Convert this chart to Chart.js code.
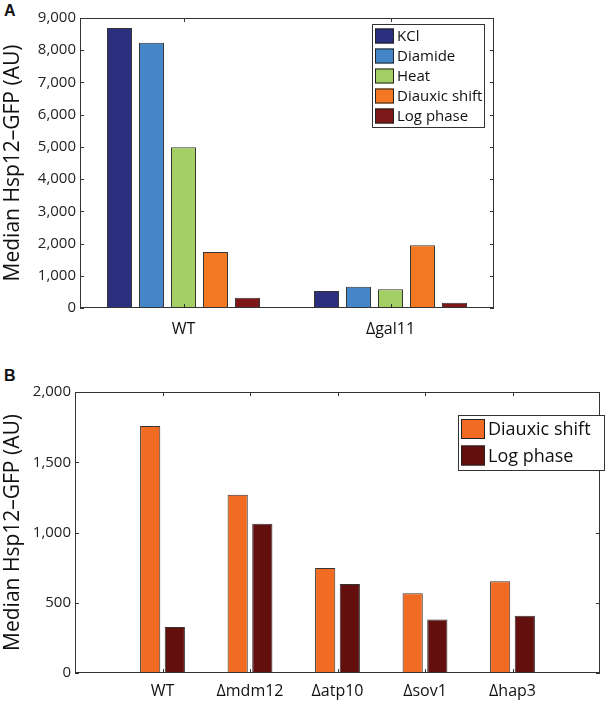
<!DOCTYPE html>
<html>
<head>
<meta charset="utf-8">
<script src="https://cdn.jsdelivr.net/npm/chart.js@4.4.0/dist/chart.umd.min.js"></script>
<style>
  body { margin: 0; background: #fff; width: 609px; height: 702px; position: relative; overflow: hidden; }
  canvas { position: absolute; left: 0; }
  #chartA { top: 0; }
  #chartB { top: 345px; }
  .panel { position: absolute; left: 4px; font: bold 16px "Liberation Sans", Arial, sans-serif; color: #111; }
</style>
</head>
<body>
<div class="panel" style="top:2px">A</div>
<div class="panel" style="top:367px">B</div>
<canvas id="chartA" width="609" height="345"></canvas>
<canvas id="chartB" width="609" height="357"></canvas>
<script>
// Panel A data
var strainsA = ['WT', 'Δgal11'];
var conditionsA = ['KCl', 'Diamide', 'Heat', 'Diauxic shift', 'Log phase'];
var kcl = [8690, 530];
var diamide = [8230, 660];
var heat = [4990, 580];
var diauxicA = [1740, 1950];
var logA = [320, 165];
var colorsA = ['#2b2f7e', '#4586c9', '#a3cf64', '#f37821', '#7e1717'];
var ticksA = [0, 1000, 2000, 3000, 4000, 5000, 6000, 7000, 8000, 9000];

// Panel B data
var strainsB = ['WT', 'Δmdm12', 'Δatp10', 'Δsov1', 'Δhap3'];
var diauxicB = [1758, 1268, 747, 567, 653];
var logB = [327, 1063, 633, 380, 408];
var colorsB = ['#f26b23', '#620f0d'];
var ticksB = [0, 500, 1000, 1500, 2000];

var fontFamily = '"Open Sans", "Noto Sans", sans-serif';

// frame, inward tick marks and legend drawn on top of the plot
var framePlugin = {
    id: 'frame',
    afterDatasetsDraw: function (chart, args, opts) {
        var ctx = chart.ctx;
        var a = chart.chartArea;
        var x = chart.scales.x, y = chart.scales.y;
        ctx.save();
        ctx.strokeStyle = '#333';
        ctx.lineWidth = 1;
        ctx.strokeRect(a.left + 0.5, a.top + 0.5, a.right - a.left - 1, a.bottom - a.top - 1);
        ctx.beginPath();
        opts.yTicks.forEach(function (v) {
            var py = Math.round(y.getPixelForValue(v)) + 0.5;
            ctx.moveTo(a.left, py); ctx.lineTo(a.left + 4, py);
            ctx.moveTo(a.right, py); ctx.lineTo(a.right - 4, py);
        });
        opts.xIdx.forEach(function (i) {
            var px = Math.round(x.getPixelForValue(i)) + 0.5;
            ctx.moveTo(px, a.top); ctx.lineTo(px, a.top + 4);
            ctx.moveTo(px, a.bottom); ctx.lineTo(px, a.bottom - 4);
        });
        ctx.stroke();

        // legend
        var L = opts.legend;
        ctx.fillStyle = '#fff';
        ctx.fillRect(L.x, L.y, L.w, L.h);
        ctx.strokeStyle = '#333';
        ctx.strokeRect(L.x + 0.5, L.y + 0.5, L.w, L.h);
        ctx.font = L.font + 'px ' + fontFamily;
        ctx.textBaseline = 'middle';
        chart.data.datasets.forEach(function (ds, i) {
            var ry = L.y + L.first + i * L.step;
            ctx.fillStyle = ds.backgroundColor;
            ctx.fillRect(L.x + 3, ry - L.sh / 2, L.sw, L.sh);
            ctx.strokeStyle = '#222';
            ctx.strokeRect(L.x + 3.5, ry - L.sh / 2 + 0.5, L.sw - 1, L.sh - 1);
            ctx.fillStyle = '#111';
            ctx.fillText(ds.label, L.x + L.sw + 6, ry + 1);
        });
        ctx.restore();
    }
};

function yAxis(max, step, width) {
    return {
        min: 0, max: max,
        grid: { display: false, drawTicks: false },
        border: { display: false },
        ticks: {
            stepSize: step, padding: 4, color: '#222',
            font: { family: fontFamily, size: 15 },
            callback: function (v) { return v.toLocaleString('en-US'); }
        },
        title: {
            display: true, text: 'Median Hsp12–GFP (AU)', color: '#111',
            font: { family: fontFamily, size: 21 }, padding: { top: 0, bottom: 2 }
        },
        afterFit: function (s) { s.width = width; }
    };
}

// Panel A
var dataA = [kcl, diamide, heat, diauxicA, logA];
new Chart(document.getElementById('chartA'), {
    type: 'bar',
    data: {
        labels: strainsA,
        datasets: conditionsA.map(function (c, i) {
            return {
                label: c, data: dataA[i], backgroundColor: colorsA[i],
                borderColor: '#333', borderWidth: 1,
                categoryPercentage: 0.773, barPercentage: 0.78
            };
        })
    },
    options: {
        responsive: false, animation: false,
        layout: { padding: { top: 18, right: 115, left: 0, bottom: 0 } },
        plugins: {
            legend: { display: false }, tooltip: { enabled: false },
            frame: { yTicks: ticksA, xIdx: [0, 1],
                legend: { x: 372, y: 24, w: 112, h: 103, first: 12, step: 20, sw: 19, sh: 15, font: 15 } }
        },
        scales: {
            x: {
                grid: { display: false, drawTicks: false }, border: { display: false },
                ticks: { padding: 12, color: '#111', font: { family: fontFamily, size: 16 } },
                afterFit: function (s) { s.height = 37; }
            },
            y: yAxis(9000, 1000, 80)
        }
    },
    plugins: [framePlugin]
});

// Panel B: empty slots at both ends give the half-open margins of the original
var dataB = [diauxicB, logB];
var namesB = ['Diauxic shift', 'Log phase'];
new Chart(document.getElementById('chartB'), {
    type: 'bar',
    data: {
        labels: [''].concat(strainsB, ['']),
        datasets: namesB.map(function (n, i) {
            return {
                label: n, data: [null].concat(dataB[i], [null]), backgroundColor: colorsB[i],
                borderColor: '#333', borderWidth: 1,
                categoryPercentage: 0.563, barPercentage: 0.82
            };
        })
    },
    options: {
        responsive: false, animation: false,
        layout: { padding: { top: 47, right: 1, left: 0, bottom: 0 } },
        plugins: {
            legend: { display: false }, tooltip: { enabled: false },
            frame: { yTicks: ticksB, xIdx: [1, 2, 3, 4, 5],
                legend: { x: 458, y: 70, w: 146, h: 55, first: 14, step: 26.5, sw: 24, sh: 20, font: 18 } }
        },
        scales: {
            x: {
                offset: false,
                grid: { display: false, drawTicks: false }, border: { display: false },
                ticks: { padding: 9, color: '#111', font: { family: fontFamily, size: 16 }, autoSkip: false, maxRotation: 0 },
                afterFit: function (s) { s.height = 29; }
            },
            y: yAxis(2000, 500, 75)
        }
    },
    plugins: [framePlugin]
});
</script>
</body>
</html>
